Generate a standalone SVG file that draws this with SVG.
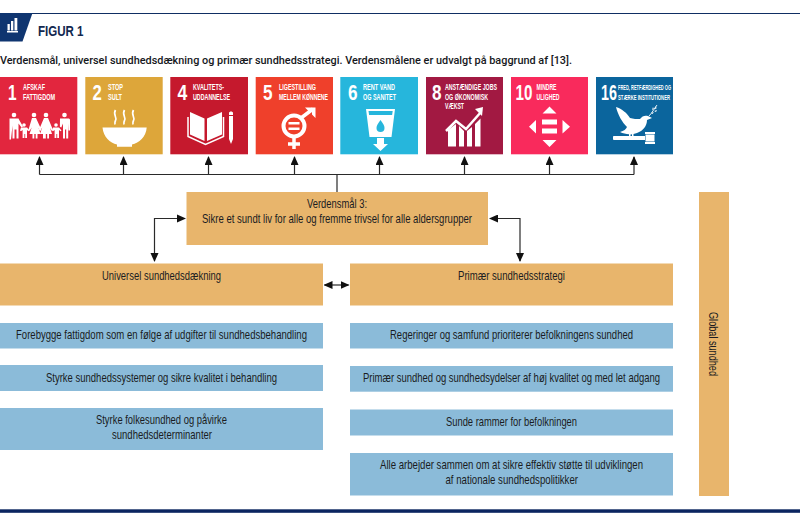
<svg xmlns="http://www.w3.org/2000/svg" width="800" height="517" viewBox="0 0 800 517">
<style>
.lb{font-family:"Liberation Sans",Arial,sans-serif;font-size:13.500px;fill:#1a1c22;-webkit-text-stroke:.15px #1a1c22}
.bl{fill:#8bbbd9}
.or{fill:#e8b56c}
.n{font-family:"Liberation Sans",Arial,sans-serif;font-weight:700;font-size:22px;fill:#fff}
.t{font-family:"Liberation Sans",Arial,sans-serif;font-weight:700;font-size:8.800px;fill:#fff}
.s{font-size:7.800px}
.w{fill:#fff}
.ws{fill:none;stroke:#fff}
.c{fill:none;stroke:#2a2a2a;stroke-width:1.2}
</style>
<defs>
<marker id="a" markerUnits="userSpaceOnUse" markerWidth="10" markerHeight="9" refX="8" refY="4" orient="auto"><path d="M0 0L9 4L0 8Z" fill="#111"/></marker>
<marker id="as" markerUnits="userSpaceOnUse" markerWidth="10" markerHeight="9" refX="1" refY="4" orient="auto"><path d="M0 4L9 0L9 8Z" fill="#111"/></marker>
</defs>
<rect width="800" height="517" fill="#fff"/>
<g id="header">
<rect x="0" y="13" width="800" height="1" fill="#0f2e63"/>
<path d="M0 13H32.500L22.500 41.500H0Z" fill="#0f3570"/>
<path d="M7 31h11v1.500H7zM7.500 24h2.300v6.500H7.500zM11 21h2.300v9.500H11zM14.500 18h2.800v12.500h-2.800z" class="w"/>
<text x="38" y="35.500" font-family="'Liberation Sans',Arial,sans-serif" font-weight="700" font-size="14" fill="#12284f" textLength="45.500" lengthAdjust="spacingAndGlyphs">FIGUR 1</text>
<text x="0" y="64" font-family="Roboto,'Liberation Sans',sans-serif" font-weight="500" font-size="11.500" fill="#16181c" textLength="572" lengthAdjust="spacingAndGlyphs">Verdensmål, universel sundhedsdækning og primær sundhedsstrategi. Verdensmålene er udvalgt på baggrund af [13].</text>
</g>
<g id="sdg1">
<rect x="-1" y="77" width="78.300" height="77.300" fill="#e2263e"/>
<text class="n" transform="translate(8 100) scale(.7 1)">1</text>
<text class="t" x="23" y="90" textLength="22" lengthAdjust="spacingAndGlyphs">AFSKAF</text>
<text class="t" x="23" y="99.500" textLength="32" lengthAdjust="spacingAndGlyphs">FATTIGDOM</text>
<g class="w">
<circle cx="14" cy="115" r="2.300"/><path d="M9.500 118.500h9l1 2 3.500 6-1.500 1-3-4v15h-2v-9h-2v9h-2v-13l-1.500 14h-1.500z"/>
<circle cx="24" cy="125" r="1.800"/><path d="M21 127.500h6l2.500 3-1 .8-1.500-1.300v8h-1.800v-4h-.8v4h-1.800v-8l-1.600 1.300-1-.8z"/>
<circle cx="34" cy="115" r="2.300"/><path d="M32 118h4l5.500 12-1.400.8-1.600-3 2 6.200h-3v4.500h-1.800V134h-1.400v4.500h-1.800V134h-3l2.200-6.500-2 3.300-1.300-.8z"/>
<circle cx="46" cy="115" r="2.300"/><path d="M44 118h4l5 12-1.400.8-1.600-3 2 6.200h-3v4.500h-1.800V134h-1.400v4.500H43V134h-3l2.200-6.500-2 3.300-1.300-.8z"/>
<circle cx="56" cy="125" r="1.800"/><path d="M53 127.500h6l2.500 3-1 .8-1.500-1.300v8h-1.800v-4h-.8v4h-1.800v-8l-1.600 1.300-1-.8z"/>
<circle cx="64.500" cy="115" r="2.300"/><path d="M60 118.500h9l1 1v11h-1.500l-.3-7v15h-2v-9h-1.200v9h-2v-15l-1.700 4-1.400-.8z"/>
</g>
</g>
<g id="sdg2">
<rect x="85.300" y="77" width="77.400" height="77.300" fill="#dda63a"/>
<text class="n" transform="translate(92.500 100) scale(.76 1)">2</text>
<text class="t" x="108" y="90" textLength="15" lengthAdjust="spacingAndGlyphs">STOP</text>
<text class="t" x="108" y="99.500" textLength="14" lengthAdjust="spacingAndGlyphs">SULT</text>
<path class="w" d="M102.500 127.500H146.700C146 137 139 143 132 144.500V146.800H117V144.500C110 143 103.500 137 102.500 127.500Z"/>
<path class="ws" stroke-width="1.700" d="M115.500 110c-3 5 2 7 0 10.500-.5 1-1 2-.5 4M124.500 110c-3 5 2 7 0 10.500-.5 1-1 2-.5 4M133.500 110c-3 5 2 7 0 10.500-.5 1-1 2-.5 4"/>
</g>
<g id="sdg4">
<rect x="170.300" y="77" width="77.700" height="77.300" fill="#c5192d"/>
<text class="n" transform="translate(177.500 100) scale(.8 1)">4</text>
<text class="t" x="193" y="90" textLength="31" lengthAdjust="spacingAndGlyphs">KVALITETS-</text>
<text class="t" x="193" y="99.500" textLength="37" lengthAdjust="spacingAndGlyphs">UDDANNELSE</text>
<path class="w" d="M190 112l14.500 6.500V141l-14.500-6.500zM222 112l-15 6.500V141l15-6.500z"/>
<path class="ws" stroke-width="1.500" d="M188 117v19.500l17.500 8 18-8V117"/>
<path class="w" d="M229 113c0-2 4-2 4 0v2h-4zM229 116h4v23l-2 5-2-5z"/>
</g>
<g id="sdg5">
<rect x="255.700" y="77" width="77.300" height="77.300" fill="#ef402b"/>
<text class="n" transform="translate(263 100) scale(.78 1)">5</text>
<text class="t" x="279" y="90" textLength="37" lengthAdjust="spacingAndGlyphs">LIGESTILLING</text>
<text class="t" x="279" y="99.500" textLength="49" lengthAdjust="spacingAndGlyphs">MELLEM KØNNENE</text>
<circle class="ws" stroke-width="4" cx="294" cy="126" r="10.500"/>
<path class="ws" stroke-width="3.500" d="M294 136v13M288 144h12M301 118l12-9"/>
<path class="w" d="M305 107.500h10.500V118l-3.500-3.500V111h-3.500zM288.500 122h11v2.500h-11zM288.500 127.500h11v2.500h-11z"/>
</g>
<g id="sdg6">
<rect x="340.300" y="77" width="77.700" height="77.300" fill="#26b6dc"/>
<text class="n" transform="translate(348 100) scale(.78 1)">6</text>
<text class="t" x="363" y="90" textLength="32" lengthAdjust="spacingAndGlyphs">RENT VAND</text>
<text class="t" x="363" y="99.500" textLength="33" lengthAdjust="spacingAndGlyphs">OG SANITET</text>
<path class="w" d="M366 109h29l-3.500 28H369.500ZM368.500 111l.6 4h23l.6-4z" fill-rule="evenodd"/>
<path d="M380.500 120c-3 4-4 6-4 8a4 4 0 0 0 8 0c0-2-1-4-4-8Z" fill="#26b6dc"/>
<path class="w" d="M377 138h7v6h4l-7.500 7-7.500-7h4z"/>
</g>
<g id="sdg8">
<rect x="426" y="77" width="77" height="77.300" fill="#a21942"/>
<text class="n" transform="translate(432 100) scale(.78 1)">8</text>
<text class="t" x="445" y="90" textLength="52" lengthAdjust="spacingAndGlyphs">ANSTÆNDIGE JOBS</text>
<text class="t" x="445" y="99.500" textLength="43" lengthAdjust="spacingAndGlyphs">OG ØKONOMISK</text>
<text class="t" x="445" y="109" textLength="19" lengthAdjust="spacingAndGlyphs">VÆKST</text>
<path class="w" d="M448 130l8-6v22.500h-8zM459 126l5 5v15.500h-5zM467 131l5-4v19.500h-5zM475 124l5.500-5.500v28H475z"/>
<path class="ws" stroke-width="2.500" d="M446 131l10-10 10 8 15-17"/>
<path class="w" d="M475 109l8-2-1 9z"/>
</g>
<g id="sdg10">
<rect x="511" y="77" width="77" height="77.300" fill="#f92a5c"/>
<text class="n" transform="translate(515.500 100) scale(.69 1)">10</text>
<text class="t" x="536.500" y="90" textLength="20" lengthAdjust="spacingAndGlyphs">MINDRE</text>
<text class="t" x="536.500" y="99.500" textLength="23" lengthAdjust="spacingAndGlyphs">ULIGHED</text>
<path class="w" d="M549.500 106.500L556.500 113.500H542.500ZM542 119.500h15v5h-15zM542 128.500h15v5h-15zM542.500 140h14l-7 7zM536 120v13.500l-7-6.700zM562.500 120v13.500l7.500-6.700z"/>
</g>
<g id="sdg16">
<rect x="596" y="77" width="77" height="77.300" fill="#0b659d"/>
<text class="n" transform="translate(601 100) scale(.65 1)">16</text>
<text class="t s" x="618" y="90" textLength="53" lengthAdjust="spacingAndGlyphs">FRED, RETFÆRDIGHED OG</text>
<text class="t s" x="618" y="99.500" textLength="52" lengthAdjust="spacingAndGlyphs">STÆRKE INSTITUTIONER</text>
<path class="w" d="M616 107C622 109 627 113 630 118C633 119 637 119 640 119C642 116 645 115 648 116L652 118L647 120C647 126 643 131 637 133L633.500 134V137H632V134.300L630.500 134.500V137H629V134.300C626 134 623 133.500 620 132C624 131 626 129 627 127C622 122 618 115 616 107Z"/>
<path class="ws" stroke-width=".9" d="M649 116c3-3 5-7 8-11"/>
<path class="w" d="M652 110l1-3 .8 2zM654.500 109l1.500-3 .5 2.500zM651 113l3-1-1.500 2zM654 111l3-1-1 2z"/>
<path class="w" d="M613 137c0-.8.500-1 1-1h31v4h-31c-.5 0-1-.5-1-1zM645 132h10v2h-10zM645.500 134.500h9v7h-9zM645 142h10v2h-10z"/>
</g>
<g id="connectors">
<path class="c" d="M337 192V174.500M39.500 174.500H634"/>
<path class="c" marker-end="url(#a)" d="M39.500 174.500V157"/>
<path class="c" marker-end="url(#a)" d="M123.500 174.500V157"/>
<path class="c" marker-end="url(#a)" d="M208.500 174.500V157"/>
<path class="c" marker-end="url(#a)" d="M294.500 174.500V157"/>
<path class="c" marker-end="url(#a)" d="M379.500 174.500V157"/>
<path class="c" marker-end="url(#a)" d="M464.500 174.500V157"/>
<path class="c" marker-end="url(#a)" d="M549.500 174.500V157"/>
<path class="c" marker-end="url(#a)" d="M634 174.500V157"/>
<path class="c" marker-end="url(#a)" marker-start="url(#as)" d="M185 218.500H154.500V261"/>
<path class="c" marker-end="url(#a)" marker-start="url(#as)" d="M490 218.500H520V261"/>
<path class="c" marker-end="url(#a)" marker-start="url(#as)" d="M324.500 285H348.500"/>
</g>
<g id="goal3">
<rect class="or" x="186.500" y="192" width="301.500" height="53"/>
<text class="lb" x="307" y="208" textLength="60" lengthAdjust="spacingAndGlyphs">Verdensmål 3:</text>
<text class="lb" x="202" y="223" textLength="270" lengthAdjust="spacingAndGlyphs">Sikre et sundt liv for alle og fremme trivsel for alle aldersgrupper</text>
</g>
<g id="universal">
<rect class="or" x="0" y="263.500" width="323" height="42"/>
<text class="lb" x="102" y="280" textLength="119" lengthAdjust="spacingAndGlyphs">Universel sundhedsdækning</text>
</g>
<g id="primary">
<rect class="or" x="350" y="263.500" width="323" height="42"/>
<text class="lb" x="458" y="280" textLength="107" lengthAdjust="spacingAndGlyphs">Primær sundhedsstrategi</text>
</g>
<g id="u1">
<rect class="bl" x="0" y="323" width="323" height="25.500"/>
<text class="lb" x="16" y="338.500" textLength="291" lengthAdjust="spacingAndGlyphs">Forebygge fattigdom som en følge af udgifter til sundhedsbehandling</text>
</g>
<g id="u2">
<rect class="bl" x="0" y="365" width="323" height="26"/>
<text class="lb" x="46" y="381.500" textLength="231" lengthAdjust="spacingAndGlyphs">Styrke sundhedssystemer og sikre kvalitet i behandling</text>
</g>
<g id="u3">
<rect class="bl" x="0" y="408" width="323" height="42"/>
<text class="lb" x="96" y="424" textLength="131" lengthAdjust="spacingAndGlyphs">Styrke folkesundhed og påvirke</text>
<text class="lb" x="112" y="439" textLength="100" lengthAdjust="spacingAndGlyphs">sundhedsdeterminanter</text>
</g>
<g id="p1">
<rect class="bl" x="350" y="323" width="323" height="25.500"/>
<text class="lb" x="390" y="338.500" textLength="243" lengthAdjust="spacingAndGlyphs">Regeringer og samfund prioriterer befolkningens sundhed</text>
</g>
<g id="p2">
<rect class="bl" x="350" y="366" width="323" height="25.700"/>
<text class="lb" x="363" y="382" textLength="297" lengthAdjust="spacingAndGlyphs">Primær sundhed og sundhedsydelser af høj kvalitet og med let adgang</text>
</g>
<g id="p3">
<rect class="bl" x="350" y="409.500" width="323" height="26"/>
<text class="lb" x="446" y="426" textLength="131" lengthAdjust="spacingAndGlyphs">Sunde rammer for befolkningen</text>
</g>
<g id="p4">
<rect class="bl" x="350" y="453" width="323" height="42.500"/>
<text class="lb" x="380" y="469" textLength="263" lengthAdjust="spacingAndGlyphs">Alle arbejder sammen om at sikre effektiv støtte til udviklingen</text>
<text class="lb" x="445.500" y="484" textLength="132.500" lengthAdjust="spacingAndGlyphs">af nationale sundhedspolitikker</text>
</g>
<g id="global">
<rect class="or" x="699" y="192" width="30" height="304"/>
<text class="lb" transform="translate(708.500 312) rotate(90)" textLength="64" lengthAdjust="spacingAndGlyphs">Global sundhed</text>
</g>
<rect id="footer-rule" x="0" y="509.300" width="800" height="3.500" fill="#0b2560"/>
</svg>
